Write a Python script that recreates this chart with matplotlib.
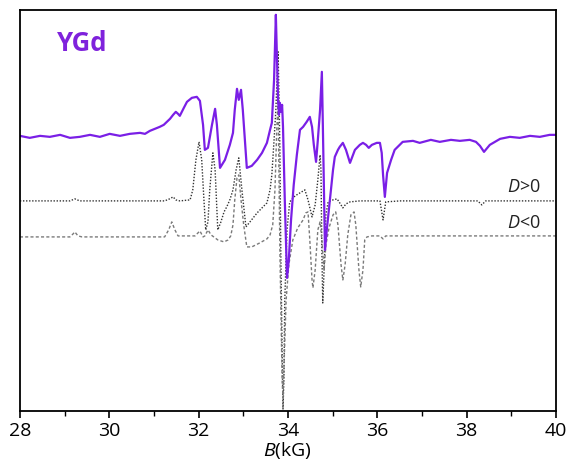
import matplotlib
matplotlib.use("Agg")
import matplotlib.pyplot as plt
from matplotlib.ticker import MultipleLocator

plt.rcParams["font.family"] = ["Open Sans", "DejaVu Sans"]
plt.rcParams["mathtext.fontset"] = "custom"
plt.rcParams["mathtext.rm"] = "Open Sans"
plt.rcParams["mathtext.it"] = "Open Sans:italic"

# experimental spectrum (B in kG, intensity in arbitrary units)
exp_b = [28.00, 28.22, 28.45, 28.67, 28.90, 29.12, 29.34, 29.57, 29.79, 30.01, 30.24,
         30.46, 30.69, 30.80, 30.91, 31.02, 31.13, 31.22, 31.29, 31.36, 31.43,
         31.49, 31.54, 31.58, 31.67, 31.74, 31.85, 31.96, 32.03, 32.10, 32.14, 32.21,
         32.30, 32.37, 32.41, 32.48, 32.59, 32.70, 32.77, 32.81, 32.86, 32.90, 32.95,
         32.99, 33.08, 33.19, 33.31, 33.42, 33.53, 33.60, 33.64, 33.69, 33.73, 33.75,
         33.78, 33.80, 33.82, 33.84, 33.87, 33.89, 33.93, 33.98, 34.02, 34.07, 34.13,
         34.20, 34.27, 34.34, 34.42, 34.49, 34.54, 34.58, 34.63, 34.67, 34.72, 34.76,
         34.78, 34.83, 34.87, 34.94, 35.01, 35.05, 35.12, 35.16, 35.23, 35.30, 35.39,
         35.50, 35.61, 35.68, 35.75, 35.81, 35.88, 35.99, 36.06, 36.10, 36.13, 36.17,
         36.22, 36.31, 36.39, 36.57, 36.80, 36.95, 37.20, 37.40, 37.65, 37.85, 38.07,
         38.21, 38.30, 38.39, 38.52, 38.75, 38.97, 39.19, 39.42, 39.64, 39.86, 40.00]
exp_i = [275, 273, 275, 274, 276, 273, 274, 276, 274, 277, 275,
         277, 278, 277, 280, 282, 284, 286, 289, 292, 296,
         299, 297, 295, 303, 309, 313, 314, 310, 286, 261, 263,
         286, 302, 286, 243, 251, 266, 278, 301, 322, 311, 321,
         301, 243, 245, 251, 258, 268, 281, 288, 331, 396, 361,
         311, 296, 308, 299, 306, 284, 211, 133, 151, 191, 226,
         256, 281, 284, 289, 294, 284, 266, 249, 271, 301, 339,
         291, 161, 181, 211, 241, 254, 261, 264, 268, 261, 248,
         261, 266, 268, 266, 263, 266, 268, 268, 258, 236, 214,
         238, 251, 261, 269, 270, 268, 271, 269, 271, 270, 271,
         269, 265, 259, 266, 272, 274, 273, 275, 274, 276, 276]

# simulation D>0
dpos_b = [28.00, 29.12, 29.23, 29.34, 31.24, 31.35, 31.43, 31.49, 31.58, 31.81, 31.87,
          31.94, 32.01, 32.07, 32.12, 32.16, 32.21, 32.25, 32.32, 32.37, 32.43, 32.50,
          32.57, 32.63, 32.70, 32.77, 32.84, 32.90, 32.97, 33.06, 33.15, 33.31, 33.42,
          33.53, 33.60, 33.64, 33.69, 33.73, 33.78, 33.80, 33.82, 33.84, 33.87, 33.89,
          33.91, 33.93, 33.98, 34.04, 34.16, 34.27, 34.38, 34.45, 34.54, 34.61, 34.67,
          34.72, 34.74, 34.76, 34.78, 34.81, 34.85, 34.90, 35.01, 35.10, 35.16, 35.23,
          35.30, 35.39, 35.61, 36.06, 36.13, 36.19, 36.51, 38.25, 38.34, 38.43, 40.00]
dpos_i = [210, 210, 212, 210, 210, 212, 214, 211, 210, 211, 221,
          251, 269, 251, 211, 181, 189, 221, 258, 241, 181, 189,
          199, 204, 211, 221, 241, 253, 221, 184, 189, 198, 203,
          208, 221, 236, 271, 301, 359, 316, 261, 161, 61, 2,
          31, 111, 181, 209, 215, 218, 221, 211, 194, 206, 231,
          256, 241, 161, 108, 141, 196, 209, 211, 212, 208, 203,
          207, 209, 210, 210, 191, 209, 210, 210, 206, 210, 210]

# simulation D<0
dneg_b = [28.00, 29.12, 29.19, 29.23, 29.30, 29.39, 31.24, 31.33, 31.40, 31.47, 31.54,
          31.92, 32.03, 32.10, 32.14, 32.21, 32.28, 32.43, 32.57, 32.66, 32.72, 32.77,
          32.81, 32.86, 32.90, 32.95, 33.01, 33.08, 33.19, 33.37, 33.53, 33.60, 33.66,
          33.71, 33.75, 33.78, 33.82, 33.87, 33.89, 33.91, 33.96, 34.02, 34.11, 34.22,
          34.34, 34.40, 34.45, 34.49, 34.54, 34.56, 34.61, 34.67, 34.72, 34.76, 34.81,
          34.85, 34.92, 35.01, 35.07, 35.12, 35.19, 35.23, 35.28, 35.34, 35.41, 35.48,
          35.52, 35.59, 35.63, 35.68, 35.72, 35.77, 35.88, 36.06, 36.13, 36.19, 36.51,
          40.00]
dneg_i = [174, 174, 177, 179, 175, 174, 174, 181, 189, 181, 175,
          175, 180, 174, 175, 181, 176, 171, 169, 171, 175, 186,
          211, 233, 236, 211, 186, 164, 164, 168, 172, 176, 186,
          221, 281, 311, 161, 31, 13, 41, 111, 146, 171, 183,
          191, 198, 199, 171, 131, 123, 141, 181, 189, 171, 141,
          166, 183, 196, 199, 186, 146, 131, 146, 176, 196, 199,
          186, 141, 124, 141, 171, 174, 175, 175, 172, 175, 175,
          175]

fig = plt.figure(figsize=(5.69, 4.66), dpi=100)
ax = fig.add_axes([0.035, 0.118, 0.942, 0.861])

ax.plot(dpos_b, dpos_i, color="#333333", lw=1.0, ls=(0, (1, 1.2)))
ax.plot(dneg_b, dneg_i, color="#7a7a7a", lw=1.0, ls=(0, (2.2, 1.6)))
ax.plot(exp_b, exp_i, color="#7a1fe6", lw=1.6)

ax.set_xlim(28, 40)
ax.set_ylim(0, 401)
ax.xaxis.set_major_locator(MultipleLocator(2))
ax.xaxis.set_minor_locator(MultipleLocator(1))
ax.tick_params(axis="x", which="major", direction="out", length=5, width=1.2,
               labelsize=14, pad=3)
ax.tick_params(axis="x", which="minor", direction="out", length=3.5, width=1.0)
ax.set_yticks([])
for s in ax.spines.values():
    s.set_linewidth(1.3)
ax.set_xlabel("$B$(kG)", fontsize=14, labelpad=0)

ax.text(0.07, 0.915, "YGd", transform=ax.transAxes, color="#7f22dc",
        fontsize=18.5, fontweight="bold", va="center", ha="left")
ax.text(39.65, 224, "$D$>0", fontsize=13, ha="right", va="center", color="#222222")
ax.text(39.65, 188, "$D$<0", fontsize=13, ha="right", va="center", color="#222222")

fig.savefig("out.png", dpi=100)
